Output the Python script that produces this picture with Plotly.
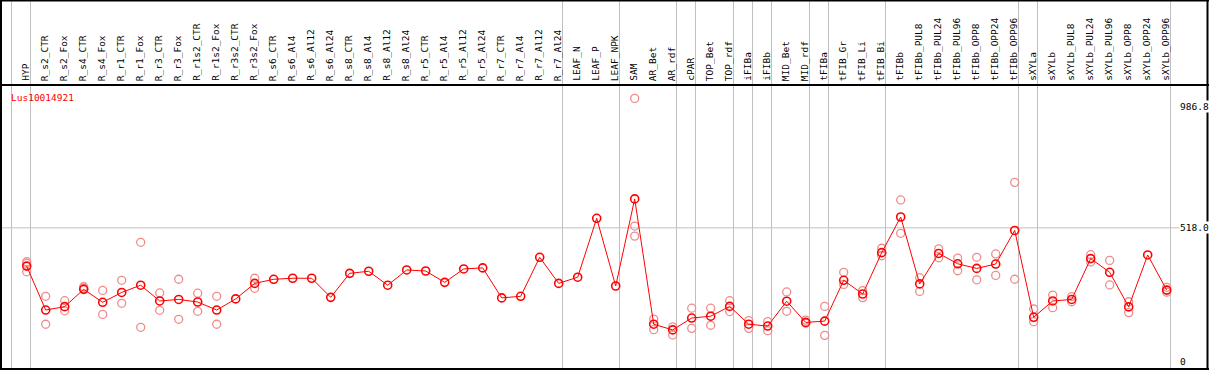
import plotly.graph_objects as go

categories = ["HYP", "R_s2_CTR", "R_s2_Fox", "R_s4_CTR", "R_s4_Fox", "R_r1_CTR", "R_r1_Fox",
              "R_r3_CTR", "R_r3_Fox", "R_r1s2_CTR", "R_r1s2_Fox", "R_r3s2_CTR", "R_r3s2_Fox",
              "R_s6_CTR", "R_s6_Al4", "R_s6_Al12", "R_s6_Al24", "R_s8_CTR", "R_s8_Al4",
              "R_s8_Al12", "R_s8_Al24", "R_r5_CTR", "R_r5_Al4", "R_r5_Al12", "R_r5_Al24",
              "R_r7_CTR", "R_r7_Al4", "R_r7_Al12", "R_r7_Al24", "LEAF_N", "LEAF_P", "LEAF_NPK",
              "SAM", "AR_Bet", "AR_rdf", "cPAR", "TOP_Bet", "TOP_rdf", "iFIBa", "iFIBb",
              "MID_Bet", "MID_rdf", "tFIBa", "tFIB_Gr", "tFIB_Li", "tFIB_Bi", "tFIBb",
              "tFIBb_PUL8", "tFIBb_PUL24", "tFIBb_PUL96", "tFIBb_OPP8", "tFIBb_OPP24",
              "tFIBb_OPP96", "sXYLa", "sXYLb", "sXYLb_PUL8", "sXYLb_PUL24", "sXYLb_PUL96",
              "sXYLb_OPP8", "sXYLb_OPP24", "sXYLb_OPP96"]

mean_values = [370, 200, 213, 280, 230, 268, 296, 235, 241, 231, 200, 243, 303,
               319, 323, 323, 249, 342, 350, 296, 355, 351, 307, 359, 363,
               247, 253, 404, 303, 327, 555, 293,
               630, 145, 123, 169, 176, 214, 145, 138, 234, 152, 157, 315, 262, 422, 560,
               301, 419, 379, 361, 378, 508,
               172, 235, 241, 399, 346, 212, 413, 277]

rep_a = [387, 253, 236, 290, 276, 315, 462, 266, 319, 265, 253, None, 323,
         None, None, None, None, None, None, None, None, None, None, None, None,
         None, None, None, None, None, None, None,
         1019, 165, 135, 207, 207, 236, 159, 155, 270, 161, 214, 346, 275, 439, 626,
         325, 437, 401, 404, 417, 694,
         204, 258, 252, 414, 392, 232, None, 288]

rep_b = [381, 145, 197, 284, 183, 226, 133, 199, 164, 195, 145, None, 284,
         None, None, None, None, None, None, None, None, None, None, None, None,
         None, None, None, None, None, None, None,
         525, 124, 103, 129, 141, 194, 129, 120, 195, 149, 102, 299, 248, 410, 497,
         272, 402, 352, 317, 334, 319,
         155, 209, 232, 386, 297, 190, None, 269]

rep_c = [348] + [None] * 31 + [486] + [None] * 28

group_ends = ["HYP", "R_r7_Al24", "LEAF_NPK", "AR_rdf", "cPAR", "TOP_rdf", "iFIBa", "iFIBb",
              "MID_rdf", "tFIBa", "tFIB_Bi", "tFIBb_OPP96", "sXYLa", "sXYLb_OPP96"]

right_ticks = [986.8, 518.0, 0]
right_tick_text = ["986.8", "518.0", "0"]
gene_name = "Lus10014921"

W, H = 1209, 370
idx = list(range(len(categories)))
FONT = "DejaVu Sans Mono"

fig = go.Figure()

for reps in (rep_a, rep_b, rep_c):
    fig.add_trace(go.Scatter(
        x=idx, y=reps, mode="markers", cliponaxis=False,
        marker=dict(symbol="circle-open", size=8, color="rgb(238,140,140)",
                    line=dict(width=1.3, color="rgb(238,140,140)")),
        hoverinfo="skip", showlegend=False))

fig.add_trace(go.Scatter(
    x=idx, y=mean_values, mode="lines+markers", cliponaxis=False,
    line=dict(color="#ff0000", width=1),
    marker=dict(symbol="circle-open", size=8, color="#ff0000",
                line=dict(width=1.6, color="#ff0000")),
    showlegend=False))

# pixel geometry
px_per_cat = 19.0
x0_px = 26.7
xmin = -x0_px / px_per_cat
xmax = xmin + W / px_per_cat
plot_top_px, plot_bot_px = 85, 369
px_per_unit = 0.2584
zero_px = 361.7
ymin = (zero_px - plot_bot_px) / px_per_unit
ymax = (zero_px - plot_top_px) / px_per_unit

shapes = []
sep_positions = [-0.8] + [categories.index(c) + 0.2 for c in group_ends]
for s in sep_positions:
    shapes.append(dict(type="line", xref="x", yref="paper", x0=s, x1=s, y0=0, y1=1,
                       line=dict(color="#c0c0c0", width=1), layer="below"))
shapes.append(dict(type="line", xref="paper", yref="y", x0=0, x1=1, y0=right_ticks[1],
                   y1=right_ticks[1], line=dict(color="#c0c0c0", width=1), layer="below"))


def px(xp):
    return xp / W


def py(yp):
    return 1 - yp / H


border = dict(color="black", width=2)
shapes.append(dict(type="line", xref="paper", yref="paper", x0=px(1), x1=px(1), y0=0, y1=1, line=border))
shapes.append(dict(type="line", xref="paper", yref="paper", x0=px(1207.5), x1=px(1207.5), y0=0, y1=1, line=border))
shapes.append(dict(type="line", xref="paper", yref="paper", x0=0, x1=1, y0=py(0.5), y1=py(0.5), line=border))
shapes.append(dict(type="line", xref="paper", yref="paper", x0=0, x1=1, y0=py(85), y1=py(85), line=border))
shapes.append(dict(type="line", xref="paper", yref="paper", x0=0, x1=1, y0=py(369), y1=py(369), line=border))

annotations = []
for i, c in enumerate(categories):
    annotations.append(dict(x=i - 0.08, xref="x", y=py(83), yref="paper", text=c, textangle=-90,
                            showarrow=False, xanchor="center", yanchor="bottom",
                            font=dict(family=FONT, size=9.5, color="black")))
for v, t in zip(right_ticks, right_tick_text):
    annotations.append(dict(x=px(1179), xref="paper", y=v, yref="y", text=t, showarrow=False,
                            xanchor="left", yanchor="middle", bgcolor="white", borderpad=0,
                            font=dict(family=FONT, size=9.5, color="black")))
annotations.append(dict(x=px(9), xref="paper", y=py(98), yref="paper", text=gene_name,
                        showarrow=False, xanchor="left", yanchor="middle",
                        font=dict(family=FONT, size=9.5, color="#ff0000")))

fig.update_layout(
    width=W, height=H, margin=dict(l=0, r=0, t=0, b=0),
    paper_bgcolor="white", plot_bgcolor="rgba(0,0,0,0)",
    xaxis=dict(range=[xmin, xmax], domain=[0, 1], showgrid=False, zeroline=False,
               showticklabels=False, ticks="", fixedrange=True),
    yaxis=dict(range=[ymin, ymax], domain=[1 - plot_bot_px / H, 1 - plot_top_px / H],
               showgrid=False, zeroline=False, showticklabels=False, ticks="", fixedrange=True),
    shapes=shapes, annotations=annotations,
)

fig.write_html("out.html", config={"displayModeBar": False},
               post_script="document.body.style.margin='0';document.body.style.padding='0';"
                           "document.body.style.overflow='hidden';")
